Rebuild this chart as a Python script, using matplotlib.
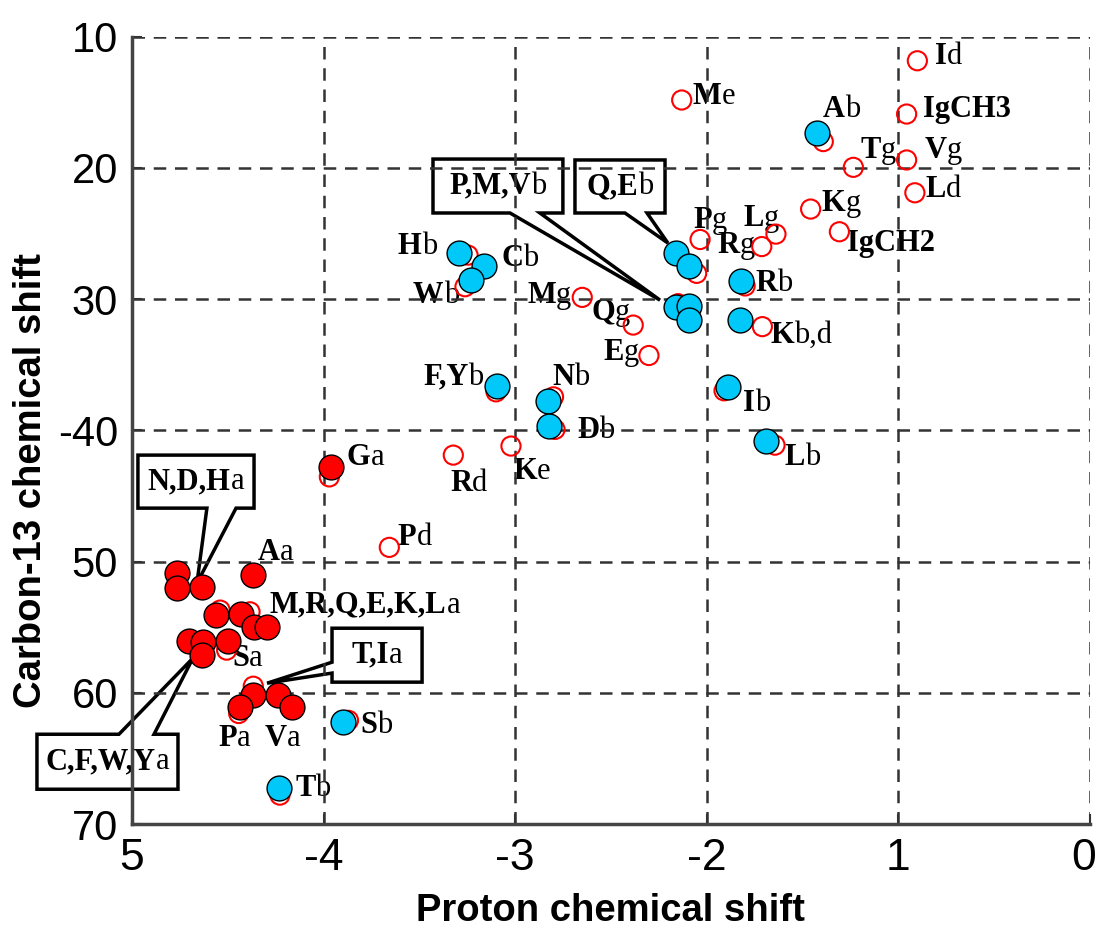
import matplotlib
matplotlib.use("Agg")
import matplotlib.pyplot as plt
from matplotlib.patches import Polygon
from matplotlib.offsetbox import TextArea, HPacker, AnnotationBbox
from matplotlib.transforms import ScaledTranslation

# ---- data (proton shift as positive values on a reversed axis) ----
open_x = [0.901, 2.131, 0.957, 1.392, 1.235, 0.957, 0.914, 1.458, 1.308, 1.639,
          1.713, 2.035, 2.053, 1.800, 1.710, 2.384, 2.302, 2.650, 3.246, 3.262,
          3.100, 2.800, 2.792, 1.910, 1.644, 3.022, 3.323, 3.970, 3.657, 4.384,
          4.540, 4.506, 4.443, 4.367, 3.870, 4.228, 2.150]
open_y = [11.84, 14.83, 15.90, 18.00, 19.96, 19.40, 21.90, 23.14, 24.87, 25.05,
          26.00, 25.46, 28.04, 29.00, 32.10, 31.98, 34.30, 29.87, 26.65, 29.06,
          37.07, 37.45, 39.93, 36.99, 41.13, 41.20, 41.89, 43.55, 48.92, 53.83,
          53.70, 56.75, 61.58, 59.50, 62.10, 67.80, 30.35]

ca_x = [3.961, 4.367, 4.764, 4.764, 4.636, 4.563, 4.433, 4.363, 4.297,
        4.701, 4.628, 4.636, 4.497, 4.367, 4.236, 4.166, 4.436]
ca_y = [42.83, 51.04, 50.90, 52.05, 51.93, 54.08, 54.00, 55.02, 55.02,
        56.04, 56.12, 57.13, 56.04, 60.18, 60.18, 61.07, 61.07]

cb_x = [1.426, 2.161, 2.091, 1.823, 2.161, 2.091, 2.091, 1.827, 3.293, 3.163,
        3.232, 3.097, 2.827, 2.822, 1.891, 1.691, 3.897, 4.231]
cb_y = [17.37, 26.52, 27.48, 28.60, 30.58, 30.53, 31.60, 31.60, 26.52, 27.48,
        28.55, 36.63, 37.75, 39.68, 36.68, 40.80, 62.20, 67.29]

# labels: bold part (residue), regular part (atom), position
label_bold = ['I', 'M', 'A', 'IgCH3', 'T', 'V', 'L', 'K', 'IgCH2', 'L', 'P', 'R',
              'R', 'K', 'H', 'C', 'W', 'M', 'Q', 'E', 'F,Y', 'N', 'D', 'I', 'L',
              'K', 'R', 'P', 'G', 'A', 'M,R,Q,E,K,L', 'S', 'P', 'V', 'S', 'T']
label_reg = ['d', 'e', 'b', '', 'g', 'g', 'd', 'g', '', 'g', 'g', 'g',
             'b', 'b,d', 'b', 'b', 'b', 'g', 'g', 'g', 'b', 'b', 'b', 'b', 'b',
             'e', 'd', 'd', 'a', 'a', 'a', 'a', 'a', 'a', 'b', 'b']
label_x = [0.809, 2.072, 1.394, 0.872, 1.200, 0.861, 0.861, 1.399, 1.268, 1.811,
           2.072, 1.942, 1.748, 1.670, 3.612, 3.074, 3.533, 2.938, 2.604, 2.542,
           3.481, 2.808, 2.677, 1.811, 1.592, 3.011, 3.340, 3.612, 3.878, 4.342,
           4.280, 4.478, 4.551, 4.306, 3.810, 4.149]
label_y = [11.55, 14.53, 15.59, 15.59, 18.64, 18.64, 21.62, 22.68, 25.73, 23.83,
           23.98, 25.88, 28.78, 32.74, 25.96, 26.87, 29.70, 29.70, 30.99, 34.04,
           35.94, 35.94, 39.98, 37.93, 42.04, 43.11, 44.02, 48.14, 42.04, 49.28,
           53.32, 57.36, 63.46, 63.46, 62.47, 67.27]

# callouts: text, box (left, right, top, bottom), pointer side, bases, tip
call_bold = ['P,M,V', 'Q,E', 'N,D,H', 'T,I', 'C,F,W,Y']
call_reg = ['b', 'b', 'a', 'a', 'a']
call_box = [(3.429, 2.751, 19.33, 23.44), (2.688, 2.218, 19.40, 23.44),
            (4.969, 4.363, 41.89, 45.93), (3.956, 3.486, 55.08, 59.19),
            (5.496, 4.760, 63.16, 67.35)]
call_side = ['bottom', 'bottom', 'bottom', 'left', 'top']
call_base = [(3.027, 2.871), (2.427, 2.312), (4.609, 4.457), (57.67, 58.50), (5.068, 4.885)]
call_tip = [(2.244, 30.08), (2.203, 25.73), (4.661, 51.65), (4.295, 59.27), (4.682, 57.36)]

xticks = [5, 4, 3, 2, 1, 0]
xticklabels = ['5', '-4', '-3', '-2', '1', '0']
yticks = [10, 20, 30, 40, 50, 60, 70]
yticklabels = ['10', '20', '30', '-40', '50', '60', '70']

LBL_FS = 22
SERIF = 'Liberation Serif'

# ---- figure ----
fig = plt.figure(figsize=(10.99, 9.27), dpi=100)
ax = fig.add_axes([0.1201, 0.1111, 0.8717, 0.8494])
ax.set_xlim(5, 0)
ax.set_ylim(70, 10)

ax.scatter(open_x, open_y, s=190, facecolors='none', edgecolors='#ff0000',
           linewidths=1.5, zorder=3)
ax.scatter(ca_x, ca_y, s=320, c='#ff0000', edgecolors='black', linewidths=1.0, zorder=4)
ax.scatter(cb_x, cb_y, s=320, c='#00c8f8', edgecolors='black', linewidths=1.0, zorder=5)


def mixed(b, r):
    kids = [TextArea(b, textprops=dict(fontfamily=SERIF, fontweight='bold', fontsize=LBL_FS))]
    if r:
        kids.append(TextArea(r, textprops=dict(fontfamily=SERIF, fontweight='normal',
                                                fontsize=LBL_FS)))
    return HPacker(children=kids, pad=0, sep=0, align='baseline')


for b, r, x, y in zip(label_bold, label_reg, label_x, label_y):
    ab = AnnotationBbox(mixed(b, r), (x, y), xycoords='data', box_alignment=(0, 0.5),
                        frameon=False, pad=0, zorder=1, annotation_clip=False)
    ax.add_artist(ab)

for b, r, (l, rr, t, bo), side, base, tip in zip(call_bold, call_reg, call_box,
                                                  call_side, call_base, call_tip):
    if side == 'bottom':
        verts = [(l, t), (rr, t), (rr, bo), (base[1], bo), tip, (base[0], bo), (l, bo)]
    elif side == 'top':
        verts = [(l, t), (base[0], t), tip, (base[1], t), (rr, t), (rr, bo), (l, bo)]
    else:
        verts = [(l, t), (rr, t), (rr, bo), (l, bo), (l, base[1]), tip, (l, base[0])]
    poly = Polygon(verts, closed=True, facecolor='white', edgecolor='black',
                   linewidth=2.5, zorder=1.1, clip_on=False, joinstyle='miter')
    ax.add_patch(poly)
    ab = AnnotationBbox(mixed(b, r), ((l + rr) / 2, (t + bo) / 2), xycoords='data',
                        box_alignment=(0.5, 0.5), frameon=False, pad=0, zorder=1.2,
                        annotation_clip=False)
    ax.add_artist(ab)

ax.set_xticks(xticks)
ax.set_xticklabels(xticklabels)
ax.set_yticks(yticks)
ax.set_yticklabels(yticklabels)
for lab in ax.get_yticklabels():
    lab.set_fontfamily('Liberation Sans')
    lab.set_fontsize(30)
for lab in ax.get_xticklabels():
    lab.set_fontfamily('Liberation Sans')
    lab.set_fontsize(32)
ax.tick_params(direction='in', length=7, width=1.5, color='#333333')
ax.tick_params(axis='y', pad=10)
ax.tick_params(axis='x', pad=10)
# nudge the last x tick label inward so it stays on the canvas
last = ax.get_xticklabels()[-1]
last.set_transform(last.get_transform() + ScaledTranslation(-6 / 100, 0, fig.dpi_scale_trans))

ax.set_axisbelow('line')
ax.grid(True, linestyle=(0, (5, 3.5)), color='#333333', linewidth=1.8)

for side in ['top', 'right']:
    ax.spines[side].set_visible(False)
for side in ['left', 'bottom']:
    ax.spines[side].set_linewidth(2.5)
    ax.spines[side].set_color('#444444')

fig.text(610 / 1099, 1 - 911 / 927, 'Proton chemical shift', fontfamily='Liberation Sans',
         fontweight='bold', fontsize=27.5, ha='center', va='center')
fig.text(31 / 1099, 1 - 481 / 927, 'Carbon-13 chemical shift', fontfamily='Liberation Sans',
         fontweight='bold', fontsize=27.5, ha='center', va='center', rotation=90)

fig.savefig('out.png', dpi=100)
